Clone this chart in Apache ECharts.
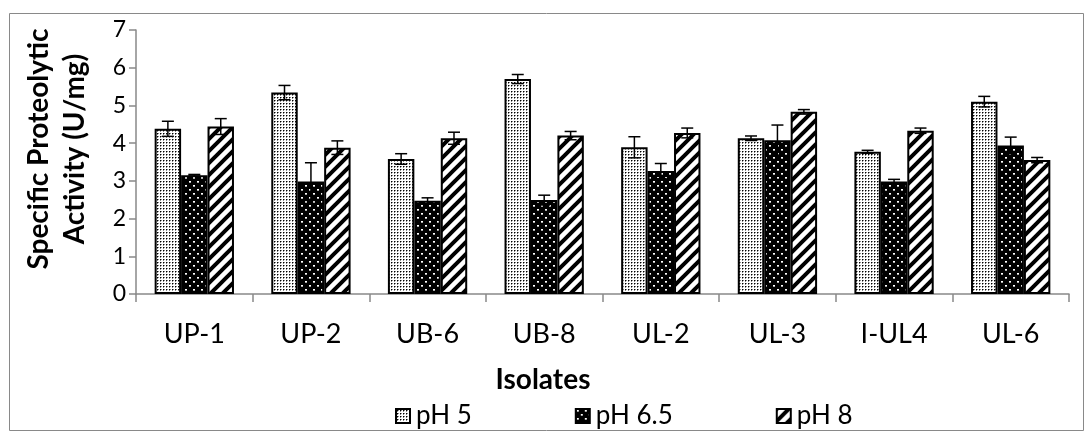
<!DOCTYPE html>
<html><head><meta charset="utf-8">
<script src="https://cdn.jsdelivr.net/npm/echarts@6/dist/echarts.min.js"></script>
<style>html,body{margin:0;padding:0;background:#fff}#c{width:1085px;height:432px}</style>
</head><body><div id="c"></div>
<script>
const categories = ['UP-1','UP-2','UB-6','UB-8','UL-2','UL-3','I-UL4','UL-6'];
const seriesNames = ['pH 5','pH 6.5','pH 8'];
const ph5 = [4.38, 5.34, 3.58, 5.70, 3.89, 4.13, 3.77, 5.10];
const ph65 = [3.15, 2.98, 2.47, 2.49, 3.26, 4.08, 2.98, 3.94];
const ph8 = [4.44, 3.88, 4.13, 4.20, 4.27, 4.83, 4.33, 3.55];
const err5 = [0.20, 0.19, 0.14, 0.12, 0.28, 0.06, 0.04, 0.14];
const err65 = [0.02, 0.50, 0.08, 0.13, 0.20, 0.40, 0.06, 0.22];
const err8 = [0.21, 0.18, 0.16, 0.11, 0.13, 0.06, 0.07, 0.07];
const yTicks = [0,1,2,3,4,5,6,7];

const FONT = 'Lato, "Open Sans", sans-serif';

function tile(w, h, draw) {
  const c = document.createElement('canvas');
  c.width = w; c.height = h;
  const g = c.getContext('2d');
  draw(g, w, h);
  return c;
}
const pat5 = tile(3, 3, (g) => {
  g.fillStyle = '#fff'; g.fillRect(0,0,3,3);
  g.fillStyle = '#000'; g.fillRect(1,1,1,1);
  g.fillStyle = '#888'; g.fillRect(2,1,1,1); g.fillRect(1,2,1,1);
});
const pat65 = tile(8, 8, (g) => {
  g.fillStyle = '#000'; g.fillRect(0,0,8,8);
  g.fillStyle = '#fff'; g.fillRect(1,1,2,1); g.fillRect(5,5,2,1);
  g.fillStyle = '#aaa'; g.fillRect(1,2,2,1); g.fillRect(5,6,2,1);
});
const pat8 = tile(12, 12, (g) => {
  g.fillStyle = '#fff'; g.fillRect(0,0,12,12);
  g.strokeStyle = '#000'; g.lineWidth = 4;
  g.beginPath();
  g.moveTo(-3,15); g.lineTo(15,-3);
  g.moveTo(-9,9); g.lineTo(9,-9);
  g.moveTo(3,21); g.lineTo(21,3);
  g.stroke();
});
const patterns = [pat5, pat65, pat8];
const values = [ph5, ph65, ph8];
const errs = [err5, err65, err8];

const GAP = 0.32;

const series = seriesNames.map((n, i) => ({
  name: n, type: 'bar', data: values[i],
  barGap: '0%', barCategoryGap: (GAP*100)+'%',
  itemStyle: { color: { image: patterns[i], repeat: 'repeat' }, borderColor: '#000', borderWidth: 2 },
  emphasis: { disabled: true }, z: 2
}));

seriesNames.forEach((n, i) => {
  series.push({
    type: 'custom', name: n + ' err', z: 5, silent: true,
    data: categories.map((c, k) => [k, values[i][k], errs[i][k]]),
    renderItem: function (params, api) {
      const k = api.value(0), v = api.value(1), e = api.value(2);
      const band = api.size([1, 0])[0];
      const w = band * (1 - GAP) / 3;
      const cx = api.coord([k, v])[0] + (i - 1) * w;
      const top = api.coord([k, v + e])[1];
      const bot = api.coord([k, v - e])[1];
      const cap = 6;
      const st = { stroke: '#000', lineWidth: 1.5 };
      return { type: 'group', children: [
        { type: 'line', shape: { x1: cx, y1: top, x2: cx, y2: bot }, style: st },
        { type: 'line', shape: { x1: cx - cap, y1: top, x2: cx + cap, y2: top }, style: st },
        { type: 'line', shape: { x1: cx - cap, y1: bot, x2: cx + cap, y2: bot }, style: st }
      ]};
    }
  });
});

const chart = echarts.init(document.getElementById('c'), null, { renderer: 'canvas' });
chart.setOption({
  animation: false,
  backgroundColor: '#fff',
  grid: { left: 136, right: 16, top: 30, bottom: 138, containLabel: false },
  xAxis: {
    type: 'category', data: categories,
    axisLine: { lineStyle: { color: '#898989', width: 1.5 } },
    axisTick: { show: true, length: 8, lineStyle: { color: '#898989', width: 1.5 } },
    axisLabel: { color: '#000', fontSize: 27, fontFamily: FONT, margin: 40, verticalAlign: 'middle' }
  },
  yAxis: {
    type: 'value', min: 0, max: 7, interval: 1,
    axisLine: { show: true, lineStyle: { color: '#898989', width: 1.5 } },
    axisTick: { show: true, length: 7, lineStyle: { color: '#898989', width: 1.5 } },
    splitLine: { show: false },
    axisLabel: { color: '#000', fontSize: 23, fontFamily: FONT, margin: 10,
      formatter: (v) => yTicks.includes(v) ? String(v) : '' }
  },
  legend: {
    data: seriesNames, left: 390, top: 398, itemWidth: 14, itemHeight: 14, itemGap: 103,
    icon: 'rect',
    textStyle: { color: '#000', fontSize: 26, fontFamily: FONT, padding: [0,0,0,1] }
  },
  graphic: [
    { type: 'rect', shape: { x: 9.5, y: 13.5, width: 1074, height: 417 }, style: { fill: 'none', stroke: '#898989', lineWidth: 1 }, silent: true, z: -1 },
    { type: 'text', x: 39, y: 149, rotation: Math.PI/2, style: { text: 'Specific Proteolytic', font: 'bold 28px ' + FONT, fill: '#000', align: 'center', verticalAlign: 'middle' } },
    { type: 'text', x: 75, y: 149, rotation: Math.PI/2, style: { text: 'Activity (U/mg)', font: 'bold 28px ' + FONT, fill: '#000', align: 'center', verticalAlign: 'middle' } },
    { type: 'text', x: 543, y: 380, style: { text: 'Isolates', font: 'bold 28px ' + FONT, fill: '#000', align: 'center', verticalAlign: 'middle' } }
  ],
  series: series
});
</script>
</body></html>
